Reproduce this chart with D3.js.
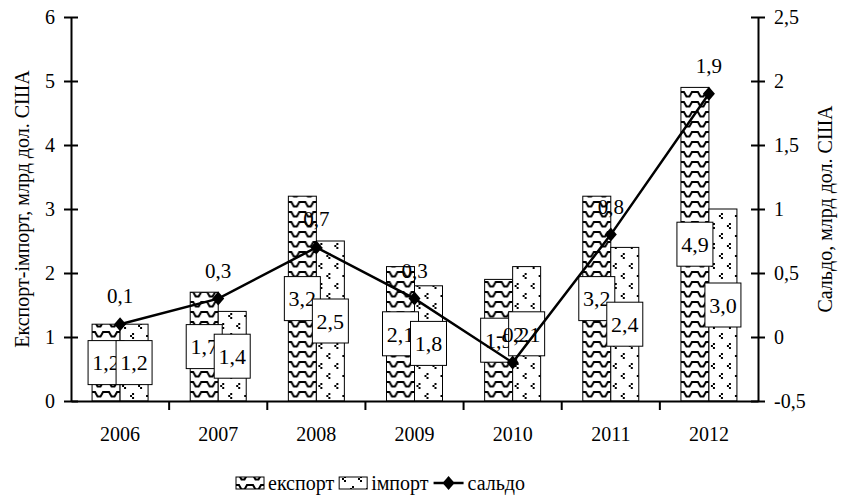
<!DOCTYPE html>
<html>
<head>
<meta charset="utf-8">
<script src="https://cdn.jsdelivr.net/npm/d3@7"></script>
<style>
  body { margin: 0; background: #fff; }
  text { font-family: "Times New Roman", "Liberation Serif", "DejaVu Serif", serif; fill: #000; }
</style>
</head>
<body>
<svg id="chart" width="841" height="501"></svg>
<script>
// data
const years = ['2006', '2007', '2008', '2009', '2010', '2011', '2012'];
const exportVals = [1.2, 1.7, 3.2, 2.1, 1.9, 3.2, 4.9];
const importVals = [1.2, 1.4, 2.5, 1.8, 2.1, 2.4, 3.0];
const saldoVals = [0.1, 0.3, 0.7, 0.3, -0.2, 0.8, 1.9];
const leftTicks = [0, 1, 2, 3, 4, 5, 6];
const rightTicks = [-0.5, 0, 0.5, 1, 1.5, 2, 2.5];
const seriesNames = ['експорт', 'імпорт', 'сальдо'];
const leftTitle = 'Експорт-імпорт, млрд дол. США';
const rightTitle = 'Сальдо, млрд дол. США';

const serif = '"Times New Roman", "Liberation Serif", "DejaVu Serif", serif';
let comma = d => String(d).replace('.', ',');
let fmt1 = d => d3.format('.1f')(d).replace('.', ',').replace('−', '-');

let svg = d3.select('#chart');
let plotL = 71, plotR = 758, plotT = 17, plotB = 401;

let x = d3.scaleBand().domain(years).range([plotL, plotR]);
let xSub = d3.scaleBand().domain(['export', 'import']).range([-28, 28]);
let y = d3.scaleLinear().domain([0, 6]).range([plotB, plotT]);
let y2 = d3.scaleLinear().domain([-0.5, 2.5]).range([plotB, plotT]);

// fill patterns
let defs = svg.append('defs');
let wave = defs.append('pattern').attr('id', 'wave')
    .attr('patternUnits', 'userSpaceOnUse').attr('width', 14).attr('height', 10);
wave.append('rect').attr('width', 14).attr('height', 10).attr('fill', '#fff');
wave.append('path').attr('d', 'M0,2 L3,2 L5.5,6.5 L8.5,6.5 L11,2 L14,2')
    .attr('fill', 'none').attr('stroke', '#000').attr('stroke-width', 2);

let dots = defs.append('pattern').attr('id', 'dots')
    .attr('patternUnits', 'userSpaceOnUse').attr('width', 16).attr('height', 20);
dots.append('rect').attr('width', 16).attr('height', 20).attr('fill', '#fff');
[[4, 3], [12, 13]].forEach(p => {
    dots.append('rect').attr('x', p[0]).attr('y', p[1]).attr('width', 2).attr('height', 2).attr('fill', '#000');
    dots.append('rect').attr('x', p[0] - 2).attr('y', p[1] + 2).attr('width', 2).attr('height', 2).attr('fill', '#000');
    dots.append('rect').attr('x', p[0]).attr('y', p[1] + 4).attr('width', 2).attr('height', 2).attr('fill', '#000');
});

let rows = years.map((yr, i) => ({year: yr, exp: exportVals[i], imp: importVals[i], saldo: saldoVals[i]}));

// bars
let groups = svg.append('g').selectAll('g').data(rows).enter().append('g')
    .attr('transform', d => `translate(${x(d.year) + x.bandwidth() / 2},0)`);
groups.append('rect')
    .attr('x', xSub('export')).attr('width', xSub.bandwidth())
    .attr('y', d => y(d.exp)).attr('height', d => y(0) - y(d.exp))
    .attr('fill', 'url(#wave)').attr('stroke', '#000').attr('stroke-width', 1);
groups.append('rect')
    .attr('x', xSub('import')).attr('width', xSub.bandwidth())
    .attr('y', d => y(d.imp)).attr('height', d => y(0) - y(d.imp))
    .attr('fill', 'url(#dots)').attr('stroke', '#000').attr('stroke-width', 1);

// left axis
let gl = svg.append('g').attr('transform', `translate(${plotL},0)`)
    .call(d3.axisLeft(y).tickValues(leftTicks).tickSize(7).tickSizeOuter(0).tickPadding(9).tickFormat(comma));
gl.selectAll('.tick line').attr('x2', 7).attr('x1', -7);
// right axis
let gr = svg.append('g').attr('transform', `translate(${plotR},0)`)
    .call(d3.axisRight(y2).tickValues(rightTicks).tickSize(7).tickSizeOuter(0).tickPadding(9).tickFormat(comma));
gr.selectAll('.tick line').attr('x2', 7).attr('x1', -7);
// bottom axis
let gb = svg.append('g').attr('transform', `translate(0,${plotB})`)
    .call(d3.axisBottom(x).tickSize(0).tickSizeOuter(0).tickPadding(26));
gb.selectAll('.tick').filter((d, i) => i > 0).append('line')
    .attr('x1', -x.step() / 2).attr('x2', -x.step() / 2).attr('y1', 0).attr('y2', 9)
    .attr('stroke', '#000').attr('stroke-width', 2);
[gl, gr, gb].forEach(g => {
    g.select('.domain').attr('stroke', '#000').attr('stroke-width', 2);
    g.selectAll('.tick line').attr('stroke', '#000').attr('stroke-width', 2);
    g.selectAll('text').style('font-family', serif).style('font-size', '20px').attr('fill', '#000');
});

// saldo line
let cx = d => x(d.year) + x.bandwidth() / 2;
svg.append('path').datum(rows)
    .attr('d', d3.line().x(cx).y(d => y2(d.saldo)))
    .attr('fill', 'none').attr('stroke', '#000').attr('stroke-width', 2.5);
let diamond = 'M0,-7 L6,0 L0,7 L-6,0 Z';
svg.append('g').selectAll('path').data(rows).enter().append('path')
    .attr('d', diamond).attr('transform', d => `translate(${cx(d)},${y2(d.saldo)})`).attr('fill', '#000');

// value boxes
let boxW = 36, boxH = 44;
let addBox = (key, val) => {
    let lab = groups.append('g')
        .attr('transform', d => `translate(${xSub(key) + xSub.bandwidth() / 2},${(y(0) + y(d[val])) / 2})`);
    lab.append('rect').attr('x', -boxW / 2).attr('y', -boxH / 2).attr('width', boxW).attr('height', boxH)
        .attr('fill', '#fff').attr('stroke', '#000').attr('stroke-width', 1);
    lab.append('text').attr('text-anchor', 'middle').attr('dy', '0.35em')
        .style('font-size', '22px').text(d => fmt1(d[val]));
};
addBox('export', 'exp');
addBox('import', 'imp');

// saldo labels
svg.append('g').selectAll('text').data(rows).enter().append('text')
    .attr('x', cx).attr('y', d => y2(d.saldo) - 21)
    .attr('text-anchor', 'middle').style('font-size', '21px')
    .text(d => fmt1(d.saldo));

// axis titles
svg.append('text').attr('transform', `translate(29,${(plotT + plotB) / 2}) rotate(-90)`)
    .attr('text-anchor', 'middle').style('font-size', '20px').text(leftTitle);
svg.append('text').attr('transform', `translate(832,${(plotT + plotB) / 2}) rotate(-90)`)
    .attr('text-anchor', 'middle').style('font-size', '20px').text(rightTitle);

// legend
let leg = svg.append('g').attr('transform', 'translate(236,483)');
let lx = 0;
[['url(#wave)', seriesNames[0]], ['url(#dots)', seriesNames[1]], [null, seriesNames[2]]].forEach(item => {
    if (item[0]) {
        leg.append('rect').attr('x', lx).attr('y', -6).attr('width', 28).attr('height', 12)
            .attr('fill', item[0]).attr('stroke', '#000').attr('stroke-width', 1);
        lx += 32;
    } else {
        leg.append('line').attr('x1', lx).attr('x2', lx + 30).attr('y1', 0).attr('y2', 0)
            .attr('stroke', '#000').attr('stroke-width', 2.5);
        leg.append('path').attr('d', diamond).attr('transform', `translate(${lx + 15},0)`).attr('fill', '#000');
        lx += 34;
    }
    let t = leg.append('text').attr('x', lx).attr('dy', '0.35em').style('font-size', '20px').text(item[1]);
    lx += t.node().getComputedTextLength() + 5;
});
</script>
</body>
</html>
